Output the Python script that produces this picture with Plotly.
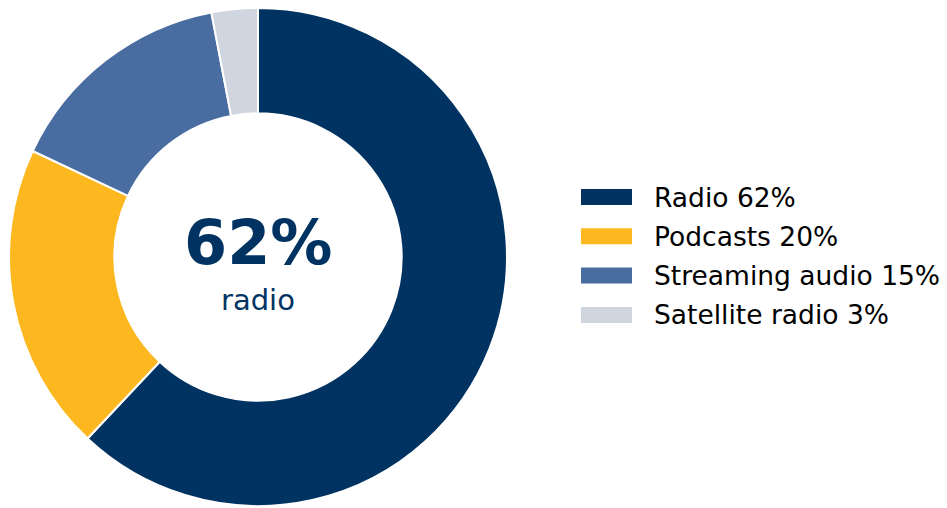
import plotly.graph_objects as go

labels = ["Radio", "Podcasts", "Streaming audio", "Satellite radio"]
values = [62, 20, 15, 3]
colors = ["#003362", "#FDB71F", "#4A6DA1", "#CFD6DF"]
center_value = "62%"
center_label = "radio"

W, H = 947, 508
cx, cy, R = 258, 257, 249

fig = go.Figure(go.Pie(
    labels=labels, values=values, hole=0.577, sort=False,
    direction="clockwise", rotation=0,
    marker=dict(colors=colors, line=dict(color="white", width=2)),
    textinfo="none", hoverinfo="label+percent", showlegend=False,
    domain=dict(x=[(cx - R) / W, (cx + R) / W], y=[(H - cy - R) / H, (H - cy + R) / H]),
))

annotations = [
    dict(text=f"<b>{center_value}</b>", x=cx / W, y=1 - 242 / H, xref="paper", yref="paper",
         showarrow=False, font=dict(family="DejaVu Sans", size=62, color="#003362"),
         xanchor="center", yanchor="middle"),
    dict(text=center_label, x=cx / W, y=1 - 300 / H, xref="paper", yref="paper",
         showarrow=False, font=dict(family="DejaVu Sans", size=29, color="#003362"),
         xanchor="center", yanchor="middle"),
]
shapes = []
row_y0, row_dy = 197, 39.3
for i, (lab, val, col) in enumerate(zip(labels, values, colors)):
    yc = row_y0 + i * row_dy
    shapes.append(dict(type="rect", xref="paper", yref="paper",
                       x0=581 / W, x1=632 / W, y0=1 - (yc + 8) / H, y1=1 - (yc - 8) / H,
                       fillcolor=col, line=dict(width=0)))
    annotations.append(dict(text=f"{lab} {val}%", x=652 / W, y=1 - yc / H, xref="paper", yref="paper",
                            showarrow=False, xanchor="left", yanchor="middle",
                            font=dict(family="DejaVu Sans", size=26.5, color="#000000")))

fig.update_layout(width=W, height=H, margin=dict(l=0, r=0, t=0, b=0),
                  paper_bgcolor="white", plot_bgcolor="white",
                  annotations=annotations, shapes=shapes)
fig.write_html("out.html")
